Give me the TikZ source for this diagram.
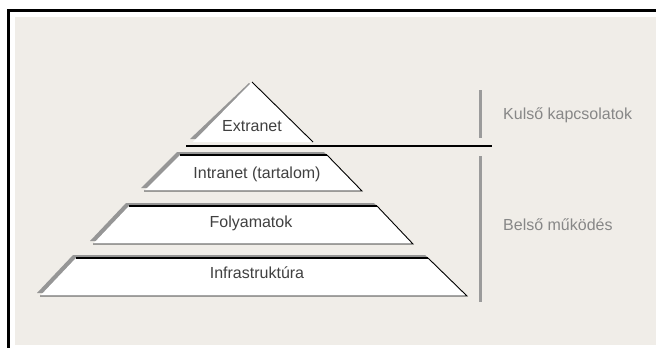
\documentclass[tikz,border=0pt]{standalone}
\usepackage{fontspec}
\setmainfont{Liberation Sans}
\definecolor{bgc}{RGB}{240,237,232}
\definecolor{shc}{RGB}{150,150,150}
\definecolor{txc}{RGB}{64,64,64}
\definecolor{sidec}{RGB}{135,135,135}
\definecolor{barc}{RGB}{155,155,155}
\begin{document}
\begin{tikzpicture}[x=1pt,y=-1pt,
  shadowfill/.style={fill=shc},
  layerfill/.style={fill=white},
  topedge/.style={draw=black,line width=2pt},
  thinedge/.style={draw=black,line width=0.9pt},
  lbl/.style={text=txc,font=\fontsize{16}{18}\selectfont,inner sep=0pt},
  sidelbl/.style={text=sidec,font=\fontsize{16}{18}\selectfont,inner sep=0pt,anchor=west},
  bar/.style={draw=barc,line width=3pt}]
\useasboundingbox (0,0) rectangle (656,348);
\fill[white] (0,0) rectangle (656,348);
\fill[bgc] (15,17) rectangle (656,345);
\draw[line width=3pt] (656,10) -- (8,10) -- (8,348);

% Extranet triangle
\fill[shadowfill,shift={(-3,-3)}] (252,86) -- (313,142) -- (193,142) -- cycle;
\fill[layerfill] (252,82) -- (313,142) -- (193,142) -- cycle;
\draw[thinedge] (252,82) -- (313,142);
\node[lbl] (extranet) at (252,126) {Extranet};

% separator line
\coordinate (sepL) at (186,146);
\coordinate (sepR) at (492,146);
\draw[line width=1.5pt,black] (sepL) -- (sepR);

% Intranet
\fill[shadowfill,shift={(-3,-3)}] (180,155) -- (327,155) -- (362,191) -- (144,191) -- cycle;
\fill[layerfill] (180,155) -- (327,155) -- (362,191) -- (144,191) -- cycle;
\draw[thinedge] (327,155) -- (362,191) -- (144,191);
\draw[topedge] (180,155) -- (327,155);
\node[lbl] (intranet) at (257,174) {Intranet (tartalom)};

% Folyamatok
\fill[shadowfill,shift={(-3,-3)}] (129,206) -- (377,206) -- (413,244) -- (93,244) -- cycle;
\fill[layerfill] (129,206) -- (377,206) -- (413,244) -- (93,244) -- cycle;
\draw[thinedge] (377,206) -- (413,244) -- (93,244);
\draw[topedge] (129,206) -- (377,206);
\node[lbl] (folyamatok) at (251,223) {Folyamatok};

% Infrastruktura
\fill[shadowfill,shift={(-3,-3)}] (76,258) -- (428,258) -- (467,296) -- (40,296) -- cycle;
\fill[layerfill] (76,258) -- (428,258) -- (467,296) -- (40,296) -- cycle;
\draw[thinedge] (428,258) -- (467,296) -- (40,296);
\draw[topedge] (76,258) -- (428,258);
\node[lbl] (infra) at (257,273) {Infrastruktúra};

% side bars
\coordinate (b1a) at (480,90);
\coordinate (b1b) at (480,138);
\coordinate (b2a) at (480,156);
\coordinate (b2b) at (480,302);
\draw[bar] (b1a) -- (b1b);
\draw[bar] (b2a) -- (b2b);

\node[sidelbl] (kulso) at (503,115) {Kulső kapcsolatok};
\node[sidelbl] (belso) at (503,225) {Belső működés};
\end{tikzpicture}
\end{document}
